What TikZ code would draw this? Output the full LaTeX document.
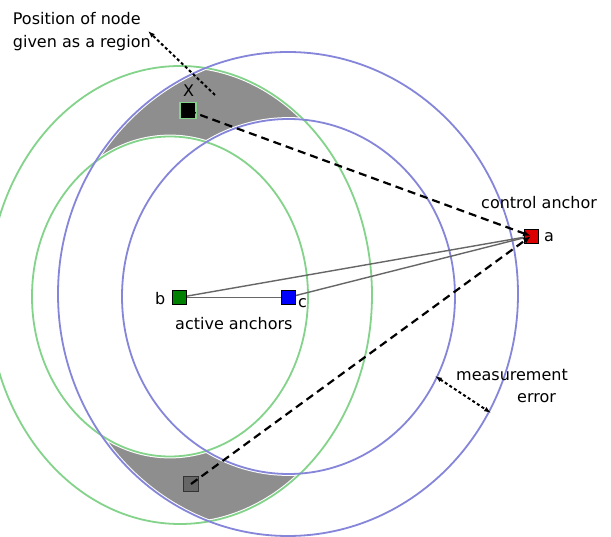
\documentclass[tikz,border=0pt]{standalone}
\usepackage{fontspec}
\setmainfont{DejaVu Sans}
\usetikzlibrary{arrows.meta,positioning}

\definecolor{vertclair}{HTML}{84D38A}
\definecolor{bleuclair}{HTML}{8585DA}
\definecolor{griszone}{HTML}{8E8E8E}
\definecolor{rouge}{HTML}{DD0000}

\tikzset{
	ancre/.style={draw=black, line width=0.8pt, minimum size=14pt, inner sep=0pt},
	texte/.style={font=\fontsize{16}{22.5}\selectfont, inner sep=0pt},
	lien/.style={draw=black!60, line width=1.4pt},
	mesure/.style={line width=2.2pt, dash pattern=on 8pt off 5pt, -{Latex[length=8pt,width=6pt]}},
	pointille/.style={line width=2pt, dash pattern=on 3pt off 2.5pt}
}

\begin{document}
\begin{tikzpicture}[x=1pt, y=-1pt]
				\useasboundingbox (0,0) rectangle (611,537);

				% zones grises : intersection des deux anneaux
				\begin{scope}
					\clip (180,295) ellipse [x radius=192, y radius=229];
					\clip (288,294) ellipse [x radius=230, y radius=242];
					\fill[griszone] (0,0) rectangle (611,537);
					\fill[white] (170,296.5) ellipse [x radius=138, y radius=160];
					\fill[white] (288.5,296.5) ellipse [x radius=166.5, y radius=177.5];
				\end{scope}

				% bords blancs des ellipses
				\draw[white, line width=3.8pt] (180,295) ellipse [x radius=192, y radius=229];
				\draw[white, line width=3.8pt] (170,296.5) ellipse [x radius=138, y radius=160];
				\draw[white, line width=3.8pt] (288,294) ellipse [x radius=230, y radius=242];
				\draw[white, line width=3.8pt] (288.5,296.5) ellipse [x radius=166.5, y radius=177.5];

				% anneau vert (ancre b)
				\draw[vertclair, line width=1.8pt] (180,295) ellipse [x radius=192, y radius=229];
				\draw[vertclair, line width=1.8pt] (170,296.5) ellipse [x radius=138, y radius=160];

				% anneau bleu (ancre c)
				\draw[bleuclair, line width=1.8pt] (288,294) ellipse [x radius=230, y radius=242];
				\draw[bleuclair, line width=1.8pt] (288.5,296.5) ellipse [x radius=166.5, y radius=177.5];

				% liens entre ancres
				\coordinate (pa) at (531,236);
				\coordinate (pb) at (179,297.5);
				\coordinate (pc) at (288,297.5);
				\draw[lien] (pb) -- (pa);
				\draw[lien] (pc) -- (pa);
				\draw[lien] (pb) -- (pc);

				% ancres
				\node[ancre, fill=rouge] (a) at (pa) {};
				\node[ancre, fill=green!50!black] (b) at (pb) {};
				\node[ancre, fill=blue] (c) at (pc) {};

				% noeud X et sa position symetrique
				\node[ancre, fill=black, draw=vertclair, line width=1.3pt, minimum size=16pt] (x) at (188,110.5) {};
				\node[ancre, fill=black!60, draw=black!80, minimum size=15pt] (y) at (191,484) {};

				% segments de mesure vers l'ancre de controle
				\draw[mesure] (x.center) -- (a.center);
				\draw[mesure] (y.center) -- (a.center);

				% etiquettes
				\node[texte, anchor=base west] (lx) at (183,97) {X};
				\node[texte, anchor=base west] (la) at (544,242) {a};
				\node[texte, anchor=base west] (lb) at (155,305) {b};
				\node[texte, anchor=base west] (lc) at (298,308) {c};
				\node[texte, anchor=base west] (lctrl) at (481,209) {control anchor};
				\node[texte, anchor=base west] (lactif) at (175,330) {active anchors};
				\node[texte, anchor=north west, align=left] (lpos) at (12.7,12.5) {Position of node\\given as a region};
				\node[texte, anchor=north west, align=left] (lerr) at (456,369) {measurement\\\hspace*{61pt}error};

				% fleche vers le texte de position
				\coordinate (zone) at (215,95);
				\coordinate (fpos) at (148,31);
				\draw[pointille, -{Latex[length=7pt,width=5pt]}] (zone) -- (fpos);

				% fleche d'erreur de mesure
				\coordinate (err1) at (435,376);
				\coordinate (err2) at (491,413);
				\draw[pointille, {Latex[length=7pt,width=5pt]}-{Latex[length=7pt,width=5pt]}] (err1) -- (err2);
			\end{tikzpicture}
\end{document}
